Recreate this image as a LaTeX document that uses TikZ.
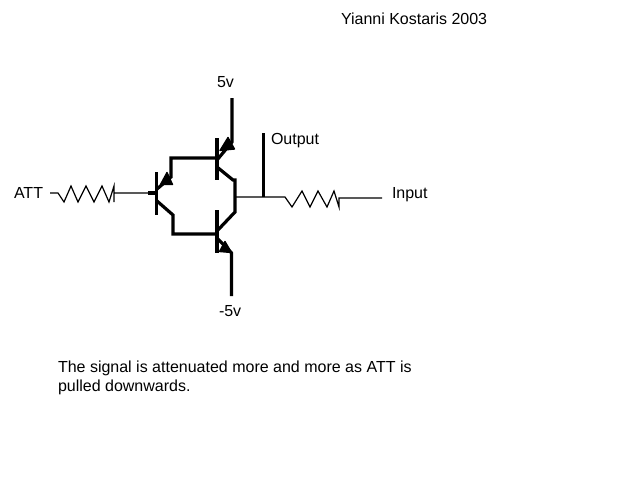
\documentclass[tikz,border=0pt]{standalone}
\usepackage{fontspec}
\setmainfont{Liberation Sans}
\tikzset{
  thickwire/.style={line width=2.4pt,line cap=butt,line join=miter},
  thinwire/.style={line width=0.9pt,line join=miter},
  zig/.style={line width=0.9pt,line join=miter},
  head/.style={fill=black,draw=black,line width=1pt,line join=round},
  label/.style={inner sep=0pt,outer sep=0pt,anchor=west,font=\fontsize{12}{14.25}\selectfont,text=black}
}
\begin{document}
\begin{tikzpicture}[x=0.75pt,y=-0.75pt]
\useasboundingbox[fill=white] (0,0) rectangle (640,480);
% labels
\node[label] (credit) at (341,19) {Yianni Kostaris 2003};
\node[label] (five) at (217,82) {5v};
\node[label] (output) at (271,141) {Output};
\node[label] (att) at (14,193) {ATT};
\node[label] (input) at (392,195) {Input};
\node[label] (minus) at (219,311) {-5v};
\node[label,align=left] (note) at (58,377.5) {The signal is attenuated more and more as ATT is\\pulled downwards.};
% junction points
\coordinate (vcc) at (232,98);
\coordinate (vccE) at (232,142);
\coordinate (vee) at (231.5,296);
\coordinate (veeE) at (231.5,253);
\coordinate (t1b) at (217,158);
\coordinate (t3b) at (217,234);
\coordinate (t2b) at (156.5,193);
\coordinate (outTop) at (263.5,133);
\coordinate (outJ) at (263.5,197);
\coordinate (mid) at (235,197);
% transistor bars
\draw[thickwire] (217,138) -- (217,180);
\draw[thickwire] (217,210) -- (217,253);
\draw[thickwire] (156.5,172) -- (156.5,215);
% top transistor
\draw[thickwire] (vcc) -- (vccE) -- (217,160);
\draw[head] (228,137.5) -- (234.5,149) -- (220,150.5) -- cycle;
\draw[thickwire] (217,167) -- (233,180) -- (235,180) -- (235,212) -- (217,231);
% bottom transistor
\draw[thickwire] (vee) -- (veeE) -- (217,238);
\draw[head] (225,241.5) -- (231.5,252.5) -- (219.5,251.5) -- cycle;
% base links
\draw[thickwire] (t1b) -- (171,158) -- (171,177) -- (157,189);
\draw[head] (167,172.5) -- (172.5,184.5) -- (160.5,184.5) -- cycle;
\draw[thickwire] (157,201) -- (173,215) -- (173,234) -- (t3b);
\draw[thickwire] (148,193) -- (t2b);
% output
\draw[thickwire] (outTop) -- (outJ);
\draw[thinwire] (mid) -- (outJ) -- (285,197) -- (292,207) -- (302,191) -- (310,207) -- (318,191) -- (327,207) -- (334,191) -- (339,207) -- (339,198) -- (382,198);
% ATT resistor
\draw[zig] (50,193) -- (58,193) -- (64,202) -- (71,186) -- (78,202) -- (86,186) -- (94,202) -- (102,186) -- (109,202) -- (114,186) -- (114,202) -- (114,193) -- (148,193);
\end{tikzpicture}
\end{document}
